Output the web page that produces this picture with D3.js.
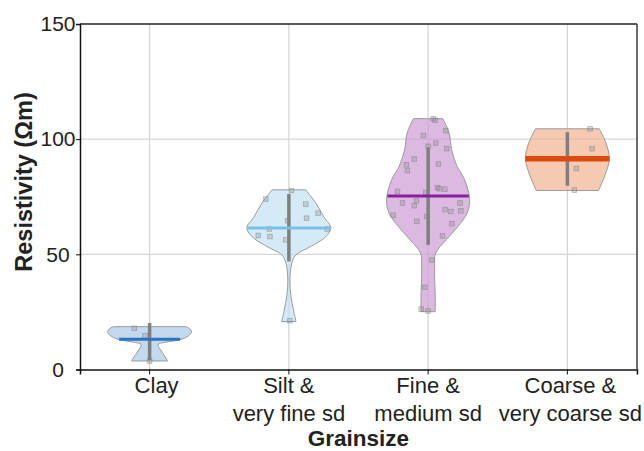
<!DOCTYPE html>
<html>
<head>
<meta charset="utf-8">
<script src="https://cdn.jsdelivr.net/npm/d3@7/dist/d3.min.js"></script>
<style>
  html, body { margin: 0; padding: 0; background: #fff; }
  svg { display: block; font-family: Arial, "Liberation Sans", Helvetica, sans-serif; }
</style>
</head>
<body>
<svg id="chart" width="644" height="451"></svg>
<script>
// Grain-size classes (two-line labels)
const categories = ["Clay", "Silt", "Fine", "Coarse"];
const categoryLabels = [["Clay"], ["Silt &", "very fine sd"], ["Fine &", "medium sd"], ["Coarse &", "very coarse sd"]];
const yTicks = [0, 50, 100, 150];

// Violin outlines: [resistivity (Ωm), relative half-width]
const clayProfile = [[3.7,0.43],[5.0,0.39],[6.5,0.33],[8.5,0.26],[10,0.21],[11,0.21],[11.7,0.33],[12.5,0.6],[13.5,0.81],[15,0.95],[16.4,1.0],[17.8,0.95],[18.6,0.86]];
const siltProfile = [[20.8,0.17],[25.9,0.11],[31.7,0.05],[38.9,0.025],[46.2,0.07],[49.8,0.17],[53.4,0.52],[57.7,0.88],[61.6,1.0],[66,0.84],[72.3,0.64],[78,0.4]];
const fineProfile = [[25.1,0.17],[30.2,0.17],[44.7,0.155],[50.5,0.18],[56.3,0.43],[62.1,0.71],[67.9,0.93],[73.7,0.99],[82.4,0.87],[88.2,0.69],[95.4,0.56],[102.7,0.5],[108.9,0.35]];
const coarseProfile = [[77.7,0.74],[84.6,0.9],[91.5,1.0],[98.3,0.92],[104.5,0.76]];

// Medians and interquartile bars
const medians = [13.1, 61.4, 75.3, 91.5];
const iqrLow  = [4.1, 46.9, 54.1, 79.8];
const iqrHigh = [20.2, 76.2, 96.4, 103.0];

// Individual samples: [jitter (fraction of band), resistivity]
const clayPoints = [[-0.11,17.9],[-0.033,14.6],[0,3.7]];
const siltPoints = [[0.019,77.7],[-0.165,74],[0.122,71.8],[0.21,67.9],[0.127,65.7],[-0.009,64.6],[-0.141,61],[0.275,61],[-0.22,58.2],[-0.136,57.7],[-0.022,56.3],[0.007,21.2]];
const finePoints = [[0.036,108.9],[0.05,108.2],[0.127,103.7],[-0.034,101.6],[0.055,98.3],[0,96.9],[0.134,95.9],[-0.1,91.4],[0.074,89.2],[-0.156,88.9],[-0.149,86.4],[0.067,79.0],[0.079,78.5],[0.12,78.3],[-0.22,77.3],[-0.017,76.9],[-0.184,72.3],[-0.084,73.3],[-0.1,71.1],[0.23,72.3],[0.122,69.4],[0.163,68.6],[0.235,68.9],[-0.251,67],[-0.009,66.4],[-0.081,64.3],[0.17,63.3],[0.103,58],[0.027,47.5],[-0.024,35.7],[-0.05,26.2],[0,25.4]];
const coarsePoints = [[0.163,104.5],[0.177,95.9],[0.065,87.3],[0.05,77.9]];

const fills = ["#abc7e7", "#c2e1f4", "#cd9bd4", "#f2b292"];
const medianColors = ["#2a74c4", "#7cc1e5", "#8a1f9d", "#dc4a10"];
const medianWidths = [3, 3, 3, 5.5];

const profiles = [clayProfile, siltProfile, fineProfile, coarseProfile];
const pointSets = [clayPoints, siltPoints, finePoints, coarsePoints];

const plotLeft = 80, plotRight = 637, plotTop = 24, plotBottom = 369.5;

const svg = d3.select("#chart");

const x = d3.scaleBand().domain(categories).range([plotLeft, plotRight]).padding(0);
const y = d3.scaleLinear().domain([0, 150]).range([plotBottom, plotTop]);
const w = d3.scaleLinear().domain([0, 1]).range([0, 42]);
const center = c => x(c) + x.bandwidth() / 2;

// gridlines
const grid = svg.append("g");
grid.selectAll("line.h").data([50, 100]).join("line")
  .attr("class", "h")
  .attr("x1", plotLeft).attr("x2", plotRight)
  .attr("y1", d => y(d)).attr("y2", d => y(d))
  .attr("stroke", "#d6d6d6").attr("stroke-width", 1.3);
grid.selectAll("line.v").data(categories).join("line")
  .attr("class", "v")
  .attr("x1", d => center(d)).attr("x2", d => center(d))
  .attr("y1", plotTop).attr("y2", plotBottom)
  .attr("stroke", "#d6d6d6").attr("stroke-width", 1.3);

// violins
categories.forEach((c, i) => {
  const cx = center(c);
  const prof = profiles[i];
  const g = svg.append("g");

  const vArea = d3.area()
    .curve(d3.curveCatmullRom.alpha(0.5))
    .y(d => y(d[0]))
    .x0(d => cx - w(d[1]))
    .x1(d => cx + w(d[1]));

  g.append("path")
    .datum(prof)
    .attr("d", vArea)
    .attr("fill", fills[i])
    .attr("fill-opacity", 0.7)
    .attr("stroke", "#9a9a9a")
    .attr("stroke-width", 1);

  // sample points
  g.selectAll("rect.pt").data(pointSets[i]).join("rect")
    .attr("class", "pt")
    .attr("x", d => cx + d[0] * x.bandwidth() - 2.3)
    .attr("y", d => y(d[1]) - 2.3)
    .attr("width", 4.6).attr("height", 4.6)
    .attr("fill", "rgba(140,140,140,0.3)")
    .attr("stroke", "rgba(110,110,110,0.45)")
    .attr("stroke-width", 0.8);

  // interquartile bar
  g.append("line")
    .attr("x1", cx).attr("x2", cx)
    .attr("y1", y(iqrLow[i])).attr("y2", y(iqrHigh[i]))
    .attr("stroke", "#7f7f7f").attr("stroke-width", 3.5);

  // median across the violin width
  const hwAt = d3.scaleLinear().domain(prof.map(p => p[0])).range(prof.map(p => p[1]));
  const mh = w(hwAt(medians[i]));
  g.append("line")
    .attr("x1", cx - mh).attr("x2", cx + mh)
    .attr("y1", y(medians[i])).attr("y2", y(medians[i]))
    .attr("stroke", medianColors[i]).attr("stroke-width", medianWidths[i]);
});

// frame: top and right edges
svg.append("line").attr("x1", plotLeft).attr("x2", plotRight).attr("y1", plotTop).attr("y2", plotTop)
  .attr("stroke", "#222").attr("stroke-width", 1.3);
svg.append("line").attr("x1", plotRight).attr("x2", plotRight).attr("y1", plotTop).attr("y2", plotBottom)
  .attr("stroke", "#444").attr("stroke-width", 1.6);

// y axis (labels centred in the margin column)
const yAxis = svg.append("g").attr("transform", `translate(${plotLeft},0)`)
  .call(d3.axisLeft(y).tickValues(yTicks).tickSize(4).tickPadding(5));
yAxis.select(".domain").attr("stroke", "#111").attr("stroke-width", 1.5);
yAxis.selectAll(".tick line").attr("stroke", "#111").attr("stroke-width", 1);
yAxis.selectAll(".tick text")
  .attr("x", -22).attr("text-anchor", "middle")
  .attr("font-size", 21).attr("fill", "#222")
  .attr("font-family", "Arial, 'Liberation Sans', sans-serif");

// x axis
const xAxis = svg.append("g").attr("transform", `translate(0,${plotBottom})`)
  .call(d3.axisBottom(x).tickSize(5).tickFormat(""));
xAxis.select(".domain").attr("stroke", "#111").attr("stroke-width", 1.5);
xAxis.selectAll(".tick line").attr("stroke", "#111").attr("stroke-width", 1);

const xl = svg.append("g");
categories.forEach((c, i) => {
  const cx = center(c) + (i === 0 ? 7 : i === 3 ? 3 : 0);
  const t = xl.append("text")
    .attr("x", cx).attr("y", 393)
    .attr("text-anchor", "middle")
    .attr("font-size", 22).attr("fill", "#222");
  categoryLabels[i].forEach((line, k) => {
    t.append("tspan").attr("x", cx).attr("dy", k === 0 ? 0 : 28).text(line);
  });
});

// axis titles
svg.append("text")
  .attr("x", (plotLeft + plotRight) / 2).attr("y", 446)
  .attr("text-anchor", "middle")
  .attr("font-size", 22.5).attr("font-weight", "bold").attr("fill", "#222")
  .text("Grainsize");

svg.append("text")
  .attr("transform", `translate(32,182) rotate(-90)`)
  .attr("text-anchor", "middle")
  .attr("font-size", 23.5).attr("font-weight", "bold").attr("fill", "#222")
  .text("Resistivity (Ωm)");
</script>
</body>
</html>
